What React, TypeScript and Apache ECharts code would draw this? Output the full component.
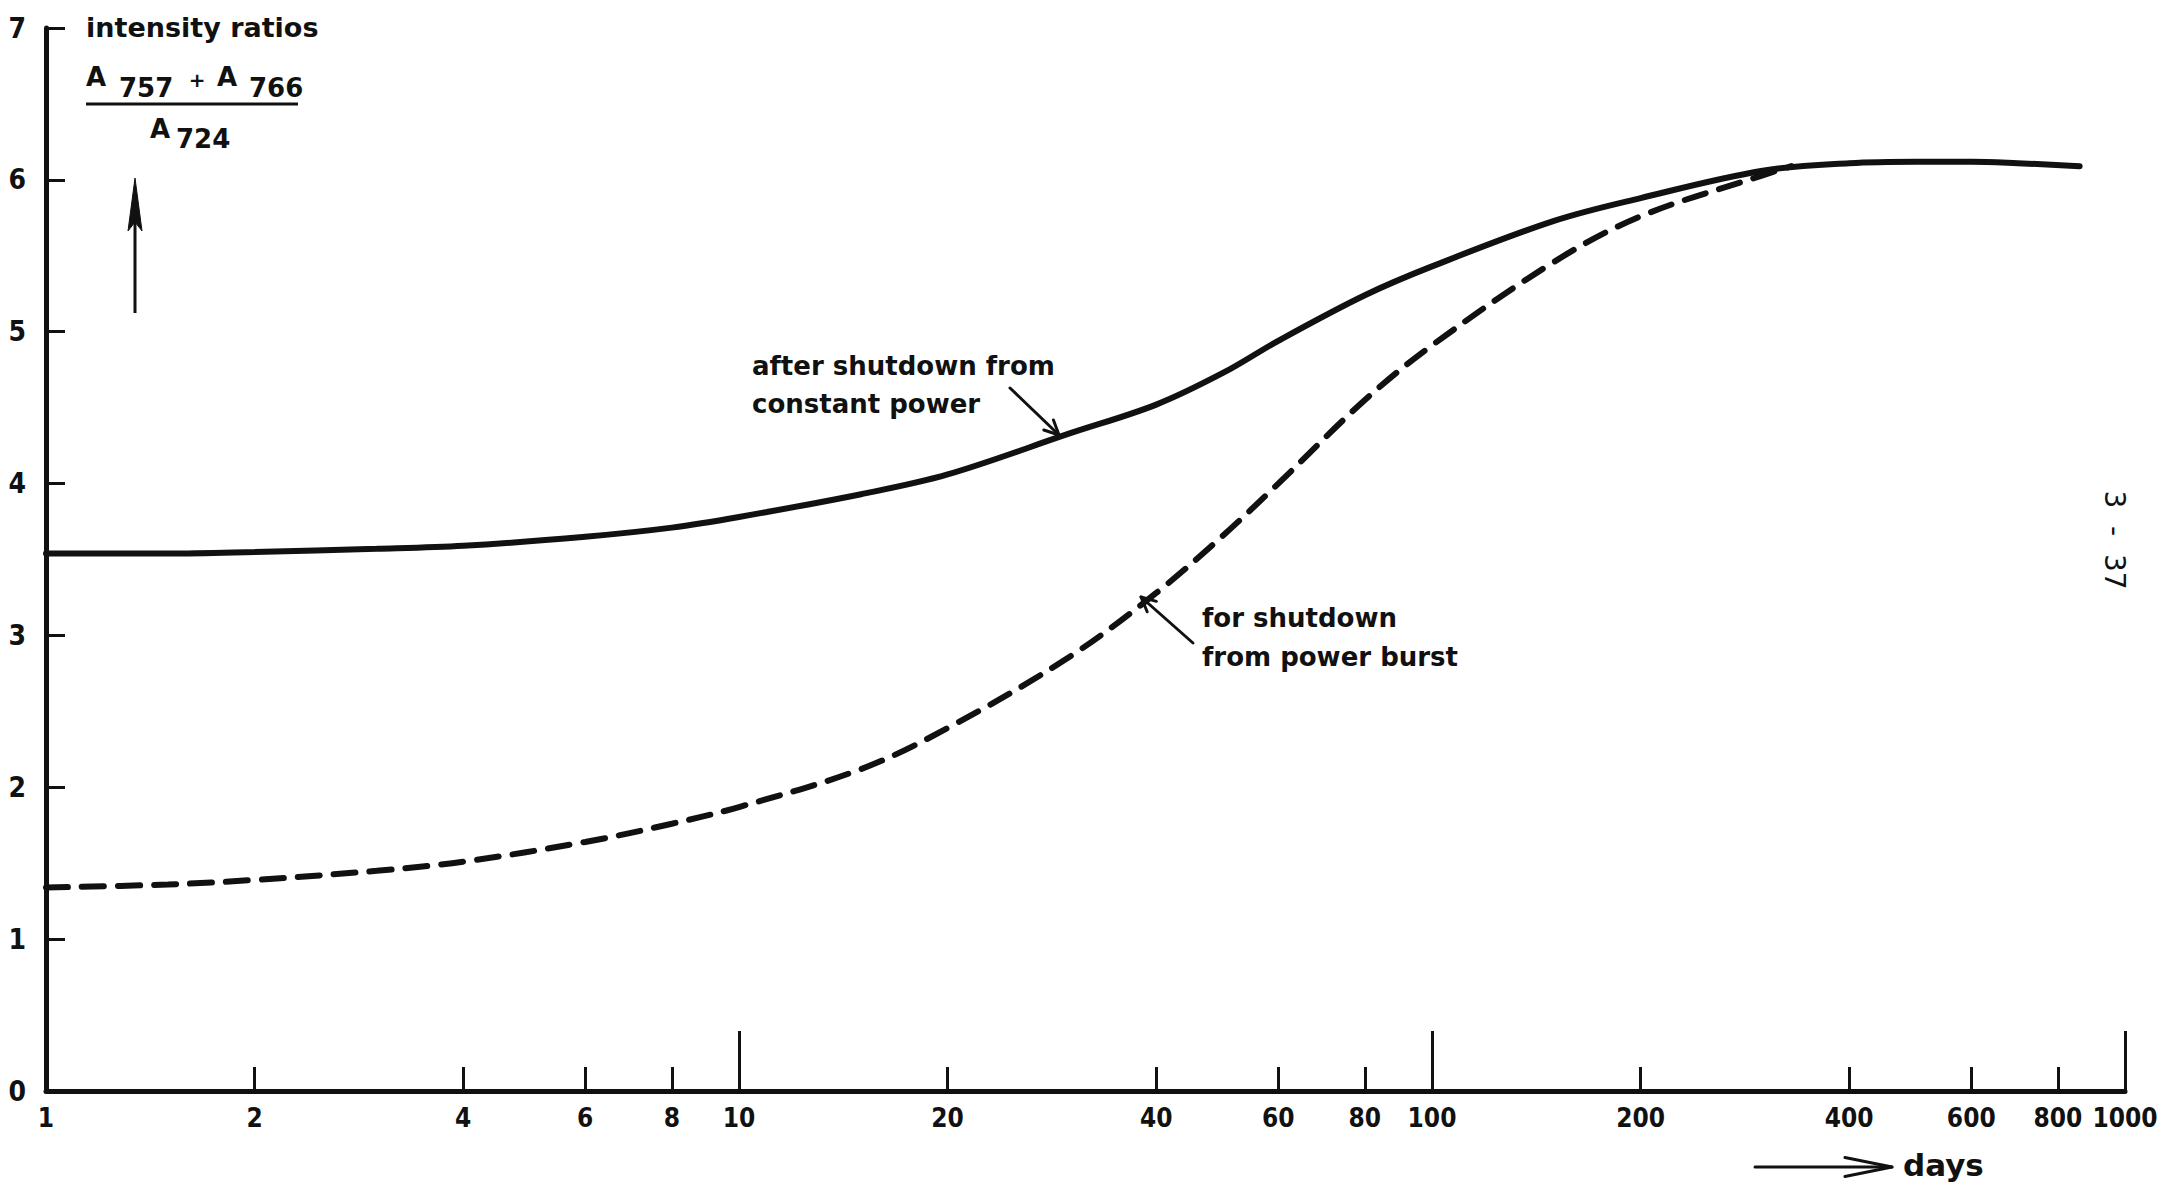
import React, { useEffect, useRef } from "react";
import * as echarts from "echarts";

// ---- data ----
const constantDays = [1, 1.5, 2, 3, 4, 6, 8, 10, 15, 20, 30, 40, 50, 60, 80, 100, 150, 200, 300, 400, 500, 600, 700, 860];
const constantPower = [3.54, 3.54, 3.55, 3.57, 3.59, 3.65, 3.71, 3.78, 3.93, 4.06, 4.33, 4.52, 4.73, 4.94, 5.24, 5.43, 5.73, 5.88, 6.06, 6.11, 6.12, 6.12, 6.11, 6.09];
const burstDays = [1, 1.5, 2, 3, 4, 6, 8, 10, 15, 20, 30, 40, 50, 60, 80, 100, 150, 200, 300, 330];
const powerBurst = [1.34, 1.36, 1.39, 1.45, 1.51, 1.64, 1.76, 1.87, 2.12, 2.39, 2.86, 3.28, 3.66, 4.0, 4.55, 4.91, 5.46, 5.76, 6.03, 6.09];

const xLabelValues = [1, 2, 4, 6, 8, 10, 20, 40, 60, 80, 100, 200, 400, 600, 800, 1000];
const xMinorTickValues = [2, 4, 6, 8, 20, 40, 60, 80, 200, 400, 600, 800];
const xMajorTickValues = [10, 100, 1000];
const yMin = 0;
const yMax = 7;
const yStep = 1;

const INK = "#111";
const NUM_FONT = "'Liberation Sans Narrow', 'DejaVu Sans Condensed', 'DejaVu Sans', sans-serif";
const TXT_FONT = "'DejaVu Sans', 'Noto Sans', sans-serif";

function arrow(x1: number, y1: number, x2: number, y2: number, headLen: number, headAng: number, width: number) {
  const dx = x2 - x1;
  const dy = y2 - y1;
  const L = Math.hypot(dx, dy);
  const ux = dx / L;
  const uy = dy / L;
  const rot = (a: number) => [ux * Math.cos(a) - uy * Math.sin(a), ux * Math.sin(a) + uy * Math.cos(a)];
  const r1 = rot(headAng);
  const r2 = rot(-headAng);
  return [
    { type: "line", shape: { x1, y1, x2, y2 }, style: { stroke: INK, lineWidth: width, lineCap: "round" } },
    {
      type: "polyline",
      shape: { points: [[x2 - r1[0] * headLen, y2 - r1[1] * headLen], [x2, y2], [x2 - r2[0] * headLen, y2 - r2[1] * headLen]] },
      style: { stroke: INK, lineWidth: width, lineCap: "round", lineJoin: "round", fill: null },
    },
  ];
}

function txt(x: number, y: number, text: string, size: number, extra: any = {}) {
  return {
    type: "text",
    x,
    y,
    rotation: extra.rotation || 0,
    style: {
      text,
      fill: INK,
      fontSize: size,
      fontWeight: extra.weight || "bold",
      fontFamily: extra.family || TXT_FONT,
      align: extra.align || "left",
      verticalAlign: "middle",
    },
  };
}

export default function App() {
  const ref = useRef<HTMLDivElement>(null);
  useEffect(() => {
    document.body.style.margin = "0";
    const chart = echarts.init(ref.current!, undefined, { renderer: "svg" });
    const solidData = constantDays.map((d, i) => [d, constantPower[i]]);
    const dashData = burstDays.map((d, i) => [d, powerBurst[i]]);

    const graphics: any[] = [
      txt(86, 27, "intensity ratios", 27),
      txt(86, 77, "A", 26),
      txt(119, 88, "757", 26),
      txt(197, 80, "+", 20, { align: "center" }),
      txt(217, 77, "A", 26),
      txt(249, 88, "766", 26),
      { type: "line", shape: { x1: 86, y1: 104, x2: 298, y2: 104 }, style: { stroke: INK, lineWidth: 3 } },
      txt(150, 129, "A", 26),
      txt(176, 139, "724", 26),
      // vertical up arrow
      { type: "line", shape: { x1: 135, y1: 313, x2: 135, y2: 200 }, style: { stroke: INK, lineWidth: 3 } },
      { type: "polygon", shape: { points: [[135, 178], [128, 231], [135, 222], [142, 231]] }, style: { fill: INK, stroke: INK, lineWidth: 1 } },
      // annotations
      txt(752, 366, "after shutdown from", 26),
      txt(752, 404, "constant power", 26),
      ...arrow(1010, 388, 1059, 435, 16, 0.45, 3),
      txt(1202, 618, "for shutdown", 26),
      txt(1202, 657, "from power burst", 26),
      ...arrow(1193, 643, 1141, 597, 16, 0.45, 3),
      // days arrow
      ...arrow(1755, 1167, 1892, 1167, 48, 0.2, 3),
      txt(1903, 1165, "days", 31),
      // page number
      txt(2114, 540, "3  -  37", 28, { align: "center", rotation: -Math.PI / 2, weight: "normal" }),
    ];

    chart.setOption({
      animation: false,
      backgroundColor: "#fff",
      grid: { left: 46, right: 59, top: 28, bottom: 96, outerBoundsMode: "none", containLabel: false },
      xAxis: [
        {
          type: "log",
          logBase: 10,
          min: 1,
          max: 1000,
          position: "bottom",
          axisLine: { show: true, onZero: false, lineStyle: { color: INK, width: 5 } },
          axisTick: { show: true, inside: true, length: 24, customValues: xMinorTickValues, lineStyle: { color: INK, width: 3 } },
          axisLabel: {
            show: true,
            customValues: xLabelValues,
            formatter: (v: number) => String(Math.round(v)),
            color: INK,
            fontSize: 26,
            fontWeight: "bold",
            fontFamily: NUM_FONT,
            margin: 14,
          },
          splitLine: { show: false },
          minorTick: { show: false },
          minorSplitLine: { show: false },
        },
        {
          type: "log",
          logBase: 10,
          min: 1,
          max: 1000,
          position: "bottom",
          axisLine: { show: false },
          axisTick: { show: true, inside: true, length: 60, customValues: xMajorTickValues, lineStyle: { color: INK, width: 3 } },
          axisLabel: { show: false },
          splitLine: { show: false },
        },
      ],
      yAxis: {
        type: "value",
        min: yMin,
        max: yMax,
        interval: yStep,
        axisLine: { show: true, onZero: false, lineStyle: { color: INK, width: 5 } },
        axisTick: { show: true, inside: true, length: 19, lineStyle: { color: INK, width: 3 } },
        axisLabel: { color: INK, fontSize: 28, fontWeight: "bold", fontFamily: NUM_FONT, margin: 20 },
        splitLine: { show: false },
      },
      series: [
        {
          name: "after shutdown from constant power",
          type: "line",
          data: solidData,
          xAxisIndex: 0,
          showSymbol: false,
          symbol: "none",
          smooth: 0.35,
          lineStyle: { color: INK, width: 6, cap: "round" },
          z: 3,
        },
        {
          name: "for shutdown from power burst",
          type: "line",
          data: dashData,
          xAxisIndex: 0,
          showSymbol: false,
          symbol: "none",
          smooth: 0.35,
          lineStyle: { color: INK, width: 6, type: [22, 14], cap: "round" },
          z: 3,
        },
      ],
      graphic: graphics,
    });
    return () => chart.dispose();
  }, []);
  return <div ref={ref} style={{ position: "fixed", left: 0, top: 0, width: 2184, height: 1187, background: "#fff" }} />;
}
